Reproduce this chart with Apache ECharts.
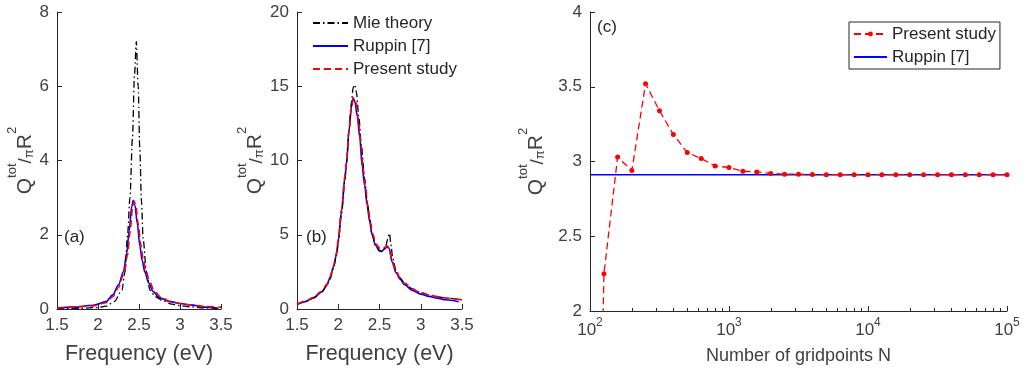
<!DOCTYPE html>
<html>
<head>
<meta charset="utf-8">
<script src="https://cdn.jsdelivr.net/npm/echarts@6/dist/echarts.min.js"></script>
<style>
html,body{margin:0;padding:0;background:#fff;}
#chart{width:1031px;height:376px;}
</style>
</head>
<body>
<div id="chart"></div>
<script>
// ---------- Panel (a): Q/πR² vs frequency (eV) ----------
const mieA = [[1.5,0.01],[1.8,0.02],[2.0,0.04],[2.1,0.08],[2.2,0.2],[2.29,0.5],[2.33,1.0],[2.36,2.0],[2.39,3.0],[2.42,4.6],[2.445,6.3],[2.467,7.2],[2.49,6.0],[2.51,4.3],[2.53,2.9],[2.55,1.9],[2.59,1.0],[2.635,0.5],[2.7,0.33],[2.79,0.22],[2.9,0.13],[3.0,0.09],[3.12,0.06],[3.3,0.03],[3.5,0.02]];
const ruppinA = [[1.5,0.03],[1.7,0.05],[1.94,0.1],[2.1,0.2],[2.18,0.38],[2.25,0.65],[2.31,1.0],[2.35,1.5],[2.38,2.1],[2.41,2.75],[2.43,2.93],[2.45,2.8],[2.48,2.3],[2.51,1.7],[2.54,1.3],[2.57,1.0],[2.62,0.7],[2.67,0.47],[2.75,0.3],[2.88,0.2],[3.0,0.15],[3.13,0.11],[3.3,0.05],[3.45,0.02]];
const presentA = [[1.5,0.02],[1.94,0.08],[2.1,0.17],[2.18,0.33],[2.25,0.58],[2.32,1.0],[2.36,1.45],[2.39,2.05],[2.42,2.7],[2.44,2.9],[2.46,2.8],[2.49,2.3],[2.52,1.75],[2.55,1.35],[2.58,1.05],[2.63,0.75],[2.68,0.5],[2.76,0.33],[2.88,0.2],[3.0,0.15],[3.13,0.11],[3.3,0.07],[3.5,0.05]];

// ---------- Panel (b) ----------
const mieB = [[1.5,0.3],[1.6,0.5],[1.7,0.75],[1.8,1.15],[1.86,1.55],[1.9,2.0],[1.94,2.7],[1.98,3.6],[2.0,4.5],[2.04,6.4],[2.08,8.7],[2.1,9.8],[2.13,12.0],[2.16,13.9],[2.18,14.9],[2.2,15.1],[2.22,14.6],[2.25,12.9],[2.28,11.0],[2.32,8.8],[2.35,7.3],[2.38,6.1],[2.41,5.1],[2.45,4.3],[2.5,3.9],[2.53,3.85],[2.57,4.1],[2.6,4.7],[2.62,5.1],[2.64,4.3],[2.66,3.4],[2.7,2.6],[2.75,2.1],[2.8,1.75],[2.9,1.35],[3.0,1.1],[3.1,0.95],[3.2,0.84],[3.3,0.74],[3.5,0.62]];
const ruppinB = [[1.5,0.3],[1.6,0.5],[1.7,0.75],[1.8,1.15],[1.86,1.6],[1.9,2.1],[1.94,2.8],[1.98,3.7],[2.0,4.6],[2.04,6.6],[2.08,8.8],[2.1,9.8],[2.13,12.0],[2.16,13.6],[2.18,14.2],[2.2,14.0],[2.23,13.0],[2.26,11.6],[2.29,9.6],[2.32,8.3],[2.35,7.0],[2.38,5.9],[2.41,5.0],[2.45,4.3],[2.5,3.95],[2.53,3.9],[2.56,4.05],[2.6,4.2],[2.62,4.05],[2.65,3.2],[2.7,2.45],[2.75,2.0],[2.8,1.65],[2.9,1.25],[3.0,1.0],[3.1,0.85],[3.2,0.73],[3.3,0.62],[3.46,0.49]];
const presentB = [[1.5,0.32],[1.6,0.52],[1.7,0.78],[1.8,1.2],[1.86,1.65],[1.9,2.15],[1.94,2.85],[1.98,3.8],[2.0,4.7],[2.04,6.7],[2.08,8.9],[2.1,9.9],[2.13,12.0],[2.16,13.6],[2.185,14.2],[2.21,14.0],[2.24,12.9],[2.27,11.4],[2.3,9.5],[2.33,8.2],[2.36,6.9],[2.39,5.8],[2.42,5.0],[2.46,4.35],[2.5,4.1],[2.53,4.05],[2.56,4.15],[2.59,4.25],[2.62,4.05],[2.65,3.3],[2.7,2.55],[2.75,2.1],[2.8,1.75],[2.9,1.35],[3.0,1.1],[3.1,0.95],[3.2,0.84],[3.3,0.74],[3.5,0.62]];

// ---------- Panel (c): convergence vs number of gridpoints ----------
const gridN = [100,126,158,200,251,316,398,501,631,794,1000,1259,1585,1995,2512,3162,3981,5012,6310,7943,10000,12589,15849,19953,25119,31623,39811,50119,63096,79433,100000];
const presentC = [-2.0,2.25,3.03,2.94,3.52,3.34,3.18,3.06,3.02,2.97,2.96,2.935,2.93,2.92,2.915,2.915,2.913,2.912,2.912,2.912,2.912,2.912,2.912,2.912,2.912,2.912,2.912,2.912,2.912,2.912,2.912];
const ruppinC = [[100,2.911],[100000,2.911]];

// tick labels / annotations
const panelLabels = ['(a)','(b)','(c)'];
const minorTicksC = [200,300,400,500,600,700,800,900,2000,3000,4000,5000,6000,7000,8000,9000,20000,30000,40000,50000,60000,70000,80000,90000];

const FONT = 'Liberation Sans, Arial, Helvetica, sans-serif';
const AX = '#262626';
const TX = '#404040';

function yName(gap){
  return {
    name: '{q|Q}{sup|tot}{sl|/}{sub|π}{q|R}{sup|2}',
    nameLocation: 'middle', nameRotate: 90, nameGap: gap,
    nameTextStyle: {
      color: TX, fontFamily: FONT,
      rich: {
        q:{fontSize:21, lineHeight:30, verticalAlign:'bottom', color:TX, fontFamily:FONT},
        sup:{fontSize:13, lineHeight:13, verticalAlign:'top', color:TX, fontFamily:FONT},
        sl:{fontSize:19, lineHeight:26, verticalAlign:'bottom', color:TX, fontFamily:FONT},
        sub:{fontSize:13, lineHeight:14, verticalAlign:'bottom', color:TX, fontFamily:FONT}
      }
    }
  };
}
function baseAxis(){
  return {
    axisLine:{show:true, onZero:false, lineStyle:{color:AX, width:1}},
    axisTick:{show:true, inside:true, length:5, lineStyle:{color:AX}},
    splitLine:{show:false},
    axisLabel:{color:TX, fontSize:17, fontFamily:FONT, margin:8}
  };
}
function freqX(idx){
  return Object.assign(baseAxis(), {
    type:'value', gridIndex:idx, min:1.5, max:3.5, interval:0.5,
    name:'Frequency (eV)', nameLocation:'middle', nameGap:34,
    nameTextStyle:{color:TX, fontSize:21.5, fontFamily:FONT}
  });
}
const dashDot = [7,3,1.5,3];
const dashed = [7,4];

const option = {
  animation:false,
  backgroundColor:'#fff',
  title: [
    {text:panelLabels[0], left:64, top:229, padding:0, textStyle:{fontSize:17, fontWeight:'normal', color:'#262626', fontFamily:FONT}},
    {text:panelLabels[1], left:306, top:229, padding:0, textStyle:{fontSize:17, fontWeight:'normal', color:'#262626', fontFamily:FONT}},
    {text:panelLabels[2], left:597, top:19, padding:0, textStyle:{fontSize:17, fontWeight:'normal', color:'#262626', fontFamily:FONT}}
  ],
  grid: [
    {left:57, top:12, width:164, height:297, containLabel:false, outerBoundsMode:'none'},
    {left:297, top:12, width:165, height:297, containLabel:false, outerBoundsMode:'none'},
    {left:590, top:12, width:417, height:299, containLabel:false, outerBoundsMode:'none'}
  ],
  legend: [
    {
      orient:'vertical', left:312, top:13, padding:0, itemGap:3,
      itemWidth:35, itemHeight:14,
      itemStyle:{opacity:0},
      data:['Mie theory','Ruppin [7]','Present study'],
      textStyle:{fontSize:17, color:'#262626', fontFamily:FONT, lineHeight:20},
      selectedMode:false
    },
    {
      orient:'vertical', left:849, top:22, padding:[2,4,2,4], itemGap:3,
      itemWidth:33, itemHeight:6,
      borderColor:'#262626', borderWidth:1, backgroundColor:'#fff',
      data:[{name:'Present study (c)'}, {name:'Ruppin [7] (c)', itemStyle:{opacity:0}}],
      formatter: function(n){ return n.replace(' (c)',''); },
      textStyle:{fontSize:17, color:'#262626', fontFamily:FONT, lineHeight:20},
      selectedMode:false
    }
  ],
  xAxis: [
    freqX(0),
    freqX(1),
    Object.assign(baseAxis(), {
      type:'log', logBase:10, gridIndex:2, min:100, max:100000,
      name:'Number of gridpoints N', nameLocation:'middle', nameGap:36,
      nameTextStyle:{color:TX, fontSize:18, fontFamily:FONT},
      axisLabel:{
        margin:6, color:TX, fontFamily:FONT,
        formatter:function(v){ return '{b|10}{s|' + Math.round(Math.log10(v)) + '}'; },
        rich:{
          b:{fontSize:17, lineHeight:22, verticalAlign:'bottom', color:TX, fontFamily:FONT},
          s:{fontSize:12, lineHeight:12, verticalAlign:'top', color:TX, fontFamily:FONT}
        }
      }
    }),
    {
      type:'log', logBase:10, gridIndex:2, min:100, max:100000, position:'bottom',
      axisLine:{show:false}, axisLabel:{show:false}, splitLine:{show:false},
      axisTick:{show:true, inside:true, length:3, customValues:minorTicksC, lineStyle:{color:AX}}
    }
  ],
  yAxis: [
    Object.assign(baseAxis(), {type:'value', gridIndex:0, min:0, max:8, interval:2}, yName(20)),
    Object.assign(baseAxis(), {type:'value', gridIndex:1, min:0, max:20, interval:5}, yName(31)),
    Object.assign(baseAxis(), {type:'value', gridIndex:2, min:2, max:4, interval:0.5}, yName(43))
  ],
  series: [
    {name:'Mie theory', type:'line', xAxisIndex:0, yAxisIndex:0, data:mieA, symbol:'none', smooth:0.3, smoothMonotone:'x',
      lineStyle:{color:'#000', width:1.3, type:dashDot}, itemStyle:{color:'#000'}, z:3},
    {name:'Ruppin [7]', type:'line', xAxisIndex:0, yAxisIndex:0, data:ruppinA, symbol:'none', smooth:0.3, smoothMonotone:'x',
      lineStyle:{color:'#0000ff', width:1.6, type:'solid'}, itemStyle:{color:'#0000ff'}, z:2},
    {name:'Present study', type:'line', xAxisIndex:0, yAxisIndex:0, data:presentA, symbol:'none', smooth:0.3, smoothMonotone:'x',
      lineStyle:{color:'#ff0000', width:1.6, type:dashed}, itemStyle:{color:'#ff0000'}, z:4},

    {name:'Mie theory', type:'line', xAxisIndex:1, yAxisIndex:1, data:mieB, symbol:'none', smooth:0.3, smoothMonotone:'x',
      lineStyle:{color:'#000', width:1.3, type:dashDot}, itemStyle:{color:'#000'}, z:3},
    {name:'Ruppin [7]', type:'line', xAxisIndex:1, yAxisIndex:1, data:ruppinB, symbol:'none', smooth:0.3, smoothMonotone:'x',
      lineStyle:{color:'#0000ff', width:1.6, type:'solid'}, itemStyle:{color:'#0000ff'}, z:2},
    {name:'Present study', type:'line', xAxisIndex:1, yAxisIndex:1, data:presentB, symbol:'none', smooth:0.3, smoothMonotone:'x',
      lineStyle:{color:'#ff0000', width:1.6, type:dashed}, itemStyle:{color:'#ff0000'}, z:4},

    {name:'Present study (c)', type:'line', xAxisIndex:2, yAxisIndex:2,
      data:gridN.map(function(n,i){ return [n, presentC[i]]; }),
      symbol:'circle', symbolSize:5, showSymbol:true, clip:true,
      lineStyle:{color:'#ff0000', width:1.3, type:dashed}, itemStyle:{color:'#ff0000'}, z:4},
    {name:'Ruppin [7] (c)', type:'line', xAxisIndex:2, yAxisIndex:2, data:ruppinC, symbol:'none',
      lineStyle:{color:'#0000ff', width:1.6, type:'solid'}, itemStyle:{color:'#0000ff'}, z:2}
  ]
};
const chart = echarts.init(document.getElementById('chart'), null, {renderer:'canvas'});
chart.setOption(option);
</script>
</body>
</html>
